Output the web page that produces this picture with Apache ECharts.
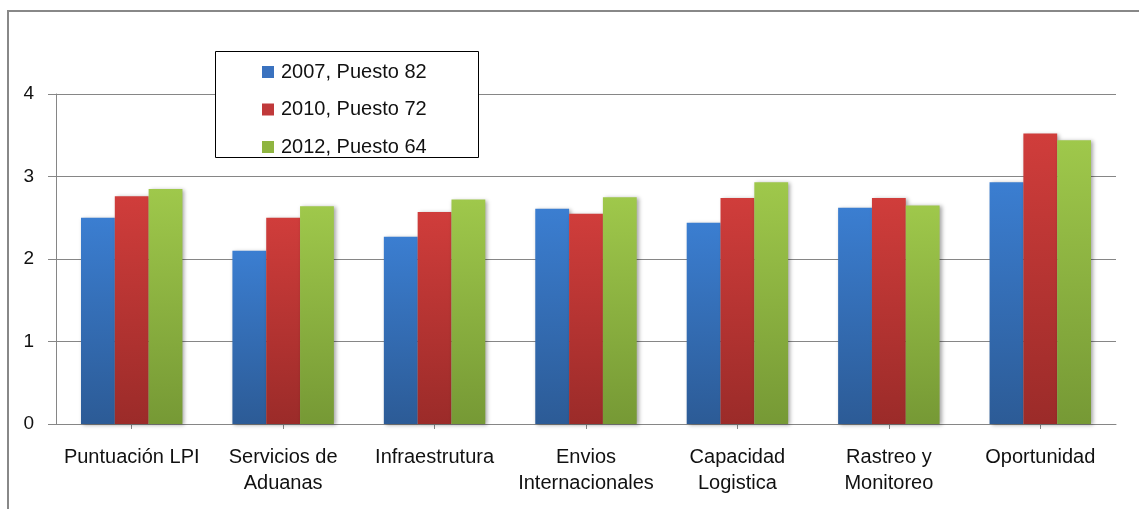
<!DOCTYPE html>
<html>
<head>
<meta charset="utf-8">
<script src="https://cdn.jsdelivr.net/npm/echarts@6/dist/echarts.min.js"></script>
<style>
  html, body { margin: 0; padding: 0; background: #fff; }
  #chart { width: 1139px; height: 509px; }
</style>
</head>
<body>
<div id="chart"></div>
<script>
// Logistics Performance Index components by year
const categories = [
  'Puntuación LPI',
  'Servicios de\nAduanas',
  'Infraestrutura',
  'Envios\nInternacionales',
  'Capacidad\nLogistica',
  'Rastreo y\nMonitoreo',
  'Oportunidad'
];
const seriesNames = ['2007, Puesto 82', '2010, Puesto 72', '2012, Puesto 64'];
const values2007 = [2.50, 2.10, 2.27, 2.61, 2.44, 2.62, 2.93];
const values2010 = [2.76, 2.50, 2.57, 2.55, 2.74, 2.74, 3.52];
const values2012 = [2.85, 2.64, 2.72, 2.75, 2.93, 2.65, 3.44];
const yTicks = [0, 1, 2, 3, 4];

const FONT = '"Liberation Sans", Arial, sans-serif';
const GRID_COLOR = '#868686';

function vGrad(top, bottom) {
  return {
    type: 'linear', x: 0, y: 0, x2: 0, y2: 1,
    colorStops: [{ offset: 0, color: top }, { offset: 1, color: bottom }]
  };
}

const palette = [
  vGrad('#3b7ed1', '#2c5b96'),
  vGrad('#d03d3b', '#9b2b29'),
  vGrad('#9fc84b', '#769935')
];
const legendColors = ['#3a72bf', '#c0393a', '#8fb540'];

function barSeries(name, data, i) {
  return {
    name: name,
    type: 'bar',
    data: data,
    barGap: '0%',
    barCategoryGap: '33%',
    itemStyle: {
      color: palette[i],
      shadowColor: 'rgba(0,0,0,0.35)',
      shadowBlur: 4,
      shadowOffsetX: 2,
      shadowOffsetY: 1
    },
    emphasis: { disabled: true }
  };
}

const chart = echarts.init(document.getElementById('chart'), null, { renderer: 'canvas' });

chart.setOption({
  animation: false,
  backgroundColor: '#ffffff',
  textStyle: { fontFamily: FONT },
  grid: { left: 56, right: 23, top: 94, bottom: 85, containLabel: false },
  graphic: [
    {
      type: 'rect',
      shape: { x: 8, y: 11, width: 1300, height: 700 },
      style: { fill: 'none', stroke: '#888888', lineWidth: 2 },
      z: 0
    },
    {
      type: 'rect',
      shape: { x: 215.5, y: 51.5, width: 263, height: 106 },
      style: { fill: '#ffffff', stroke: '#000000', lineWidth: 1 },
      z: 10
    }
  ],
  legend: {
    orient: 'vertical',
    left: 262,
    top: 62,
    padding: 0,
    itemGap: 17.5,
    itemWidth: 12,
    itemHeight: 12,
    icon: 'rect',
    z: 20,
    data: seriesNames.map((n, i) => ({ name: n, itemStyle: { color: legendColors[i] } })),
    textStyle: { fontFamily: FONT, fontSize: 20, color: '#111', lineHeight: 20, padding: [0, 0, 0, 2] }
  },
  xAxis: {
    type: 'category',
    data: categories,
    axisLine: { show: true, lineStyle: { color: GRID_COLOR, width: 1 } },
    axisTick: { show: true, alignWithLabel: true, length: 5, lineStyle: { color: GRID_COLOR } },
    axisLabel: {
      interval: 0,
      margin: 20,
      fontFamily: FONT,
      fontSize: 20,
      lineHeight: 26,
      color: '#111'
    },
    splitLine: { show: false }
  },
  yAxis: {
    type: 'value',
    min: yTicks[0],
    max: yTicks[yTicks.length - 1],
    interval: 1,
    axisLine: { show: true, lineStyle: { color: GRID_COLOR, width: 1 } },
    axisTick: { show: true, length: 8, lineStyle: { color: GRID_COLOR } },
    axisLabel: { margin: 22, fontFamily: FONT, fontSize: 19, color: '#111' },
    splitLine: { show: true, lineStyle: { color: GRID_COLOR, width: 1 } }
  },
  series: [
    barSeries(seriesNames[0], values2007, 0),
    barSeries(seriesNames[1], values2010, 1),
    barSeries(seriesNames[2], values2012, 2)
  ]
});
</script>
</body>
</html>
